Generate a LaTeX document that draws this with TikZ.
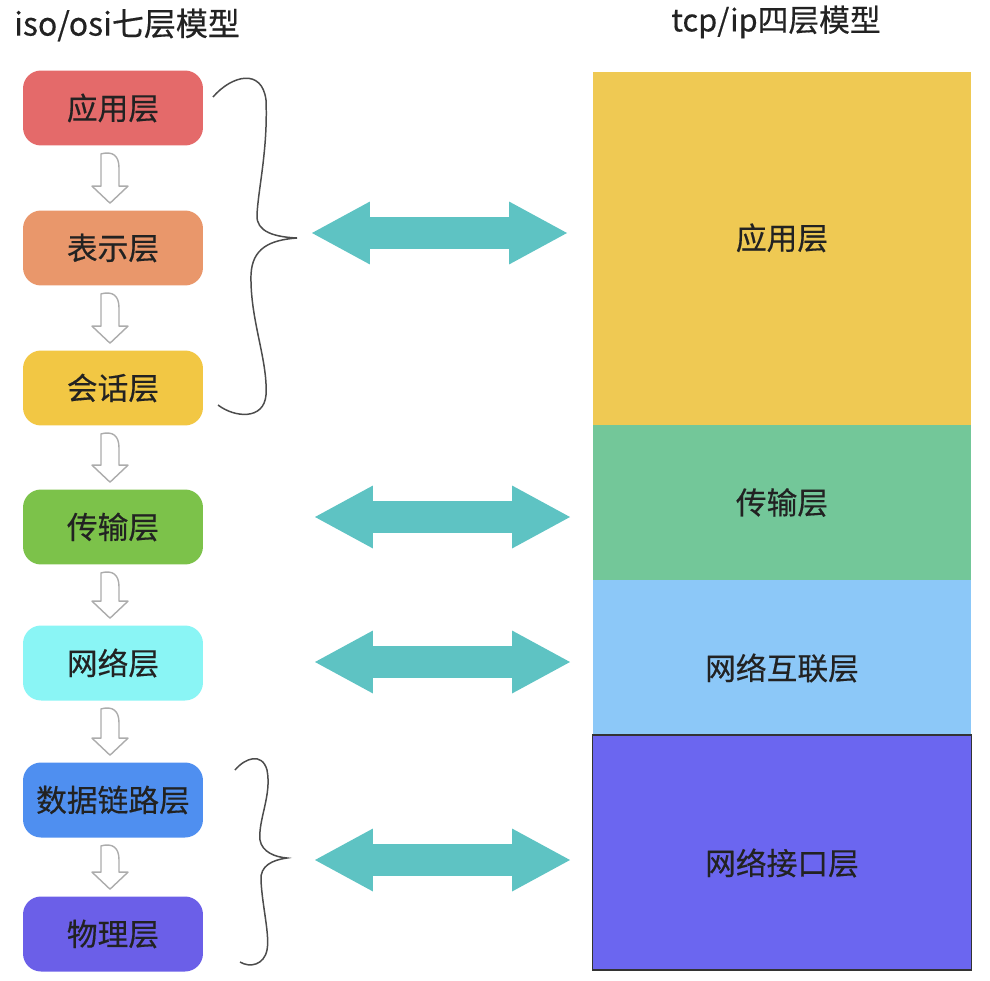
\documentclass[tikz,border=0pt]{standalone}
\usepackage{fontspec}
\usepackage{xcolor}
\usepackage{tikz}
\usetikzlibrary{calc,arrows.meta}
\newfontfamily\cjk[FakeBold=0.4]{Noto Sans CJK SC}

\definecolor{osiA}{HTML}{E46A6A}
\definecolor{osiB}{HTML}{E9976B}
\definecolor{osiC}{HTML}{F2C744}
\definecolor{osiD}{HTML}{7CC24A}
\definecolor{osiE}{HTML}{8AF5F5}
\definecolor{osiF}{HTML}{4F8FF0}
\definecolor{osiG}{HTML}{6B5FE8}
\definecolor{tcpA}{HTML}{EFC953}
\definecolor{tcpB}{HTML}{73C799}
\definecolor{tcpC}{HTML}{8CC8F8}
\definecolor{tcpD}{HTML}{6B66F0}
\definecolor{linkcol}{HTML}{5EC3C3}
\definecolor{inkcol}{HTML}{222222}

\tikzset{
  osibox/.style={rectangle, rounded corners=0.36cm, minimum width=3.6cm,
    minimum height=1.5cm, inner sep=0pt, text=inkcol,
    font=\cjk\fontsize{17.5}{20}\selectfont},
  tcpbox/.style={rectangle, minimum width=7.58cm, inner sep=0pt, text=inkcol,
    font=\cjk\fontsize{17.5}{20}\selectfont},
  textup/.style={text height=0.5cm, text depth=0.46cm},
  textdown/.style={text height=0.93cm, text depth=0.04cm},
  downarrow/.style={draw=gray!65, fill=white, line width=0.8pt, line join=round},
  biarrow/.style={draw=linkcol, line width=0.64cm,
    {Triangle[length=1.16cm,width=1.26cm,line width=0pt]}-{Triangle[length=1.16cm,width=1.26cm,line width=0pt]}},
  bracecurve/.style={draw=black!70, line width=0.85pt}
}

\begin{document}
\begin{tikzpicture}[x=0.02cm,y=-0.02cm]
\useasboundingbox (0,0) rectangle (990,980);

% titles
\node[anchor=west, text=inkcol, font=\cjk\fontsize{18.2}{21}\selectfont] (osititle) at (8,25) {iso/osi七层模型};
\node[text=inkcol, font=\cjk\fontsize{17.5}{20}\selectfont] (tcptitle) at (776,22) {tcp/ip四层模型};

% seven layers
\node[osibox, fill=osiA] (o1) at (113,108) {应用层};
\node[osibox, fill=osiB] (o2) at (113,248) {表示层};
\node[osibox, fill=osiC] (o3) at (113,388) {会话层};
\node[osibox, fill=osiD] (o4) at (113,527) {传输层};
\node[osibox, fill=osiE] (o5) at (113,663) {网络层};
\node[osibox, fill=osiF] (o6) at (113,800) {数据链路层};
\node[osibox, fill=osiG] (o7) at (113,934) {物理层};

\foreach \a/\b in {o1/o2,o2/o3,o3/o4,o4/o5,o5/o6,o6/o7} {
\draw[downarrow] ($(\a.south)+(-12,8)$) .. controls ($(\a.south)+(0,5)$) and ($(\a.south)+(6,10)$) .. ($(\a.south)+(6,22)$)
  -- ($(\b.north)+(6,-24)$) -- ($(\b.north)+(15,-24)$) -- ($(\b.north)+(-3,-7)$)
  -- ($(\b.north)+(-21,-24)$) -- ($(\b.north)+(-12,-24)$) -- cycle;
}

% four layers
\node[tcpbox, textup, fill=tcpA, minimum height=7.06cm] (t1) at (782,248.5) {应用层};
\node[tcpbox, fill=tcpB, minimum height=3.1cm] (t2) at (782,502.5) {传输层};
\node[tcpbox, textdown, fill=tcpC, minimum height=3.1cm] (t3) at (782,657.5) {网络互联层};
\node[tcpbox, textdown, fill=tcpD, draw=black!80, line width=0.9pt, minimum height=4.7cm] (t4) at (782,852.5) {网络接口层};

% braces
\draw[bracecurve] (213,97) .. controls (232,75) and (262,68) .. (266,100)
  .. controls (268,150) and (258,190) .. (257,215)
  .. controls (256,232) and (275,237) .. (297,238)
  .. controls (270,240) and (252,248) .. (251,275)
  .. controls (250,320) and (268,360) .. (266,395)
  .. controls (264,420) and (235,418) .. (218,405);
\draw[bracecurve] (235,770) .. controls (245,758) and (262,752) .. (267,770)
  .. controls (272,795) and (258,820) .. (260,840)
  .. controls (262,852) and (275,857) .. (287,858)
  .. controls (272,860) and (260,866) .. (261,880)
  .. controls (262,905) and (270,935) .. (267,950)
  .. controls (264,965) and (250,968) .. (240,962);

% correspondence arrows
\foreach \i/\y/\l/\r in {1/233/312/567, 2/517/315/570, 3/662/315/570, 4/860/315/570} {
\coordinate (l\i) at (\l,\y);
\coordinate (r\i) at (\r,\y);
\draw[biarrow] (l\i) -- (r\i);
}
\end{tikzpicture}
\end{document}
